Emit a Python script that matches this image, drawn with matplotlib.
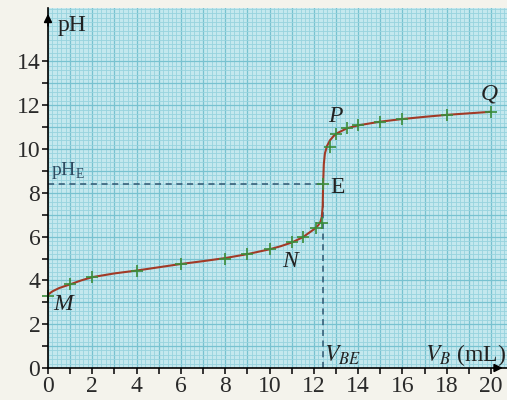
import matplotlib
matplotlib.use("Agg")
import matplotlib.pyplot as plt
import numpy as np

# measured points (green crosses)
vb_points = [0, 1, 2, 4, 6, 8, 9, 10, 11, 11.5, 12.1, 12.35, 12.4, 12.73, 13.0, 13.5, 14, 15, 16, 18, 20]
ph_points = [3.3, 3.82, 4.15, 4.45, 4.75, 5.0, 5.2, 5.42, 5.75, 5.97, 6.4, 6.62, 8.4, 10.1, 10.7, 10.95, 11.1, 11.25, 11.35, 11.55, 11.7]

# hand-drawn curve
curve_vb = [0, 0.2, 0.5, 1, 1.5, 2, 3, 4, 5, 6, 7, 8, 9, 10, 10.5, 11, 11.5, 12, 12.2, 12.3,
            12.36, 12.4, 12.42, 12.45, 12.5, 12.6, 12.73, 12.9, 13.05, 13.5, 14, 15, 16, 17, 18, 19, 20]
curve_ph = [3.35, 3.5, 3.65, 3.82, 4.0, 4.15, 4.32, 4.45, 4.6, 4.75, 4.88, 5.02, 5.2, 5.42, 5.56, 5.73, 5.97, 6.33, 6.52, 6.68,
            6.9, 7.4, 8.4, 9.3, 9.8, 10.15, 10.4, 10.6, 10.72, 10.95, 11.08, 11.25, 11.37, 11.47, 11.56, 11.63, 11.7]

v_be = 12.4
ph_e = 8.4

x_ticks = list(range(0, 21))
x_labels = [str(v) if v % 2 == 0 else "" for v in x_ticks]
y_ticks = list(range(0, 15))
y_labels = [str(v) if v % 2 == 0 else "" for v in y_ticks]

serif = ["Liberation Serif", "DejaVu Serif"]
fs = 17

fig = plt.figure(figsize=(5.07, 4.0), dpi=100)
fig.patch.set_facecolor("#f4f3ec")
ax = fig.add_axes([48 / 507, 32 / 400, 459 / 507, 360 / 400])
ax.set_facecolor("#c4e8ee")
ax.set_xlim(0, 20.72)
ax.set_ylim(0, 16.44)

ax.set_xticks(x_ticks)
ax.set_xticklabels(x_labels, fontfamily=serif, fontsize=fs, color="#2a2a2a")
ax.set_yticks(y_ticks)
ax.set_yticklabels(y_labels, fontfamily=serif, fontsize=fs, color="#2a2a2a")
ax.set_xticks(np.arange(0, 20.8, 0.2), minor=True)
ax.set_yticks(np.arange(0, 16.5, 0.2), minor=True)
ax.tick_params(which="major", direction="out", length=4, width=1.1, color="black", pad=1.5)
ax.tick_params(which="minor", length=0)
ax.grid(which="minor", color="#97d3de", lw=0.6)
ax.grid(which="major", color="#78c2d0", lw=0.9)
ax.set_axisbelow(True)
for s in ["top", "right"]:
    ax.spines[s].set_visible(False)
for s in ["left", "bottom"]:
    ax.spines[s].set_color("black")
    ax.spines[s].set_linewidth(1.2)

# axis arrows
ax.annotate("", xy=(0, 16.3), xytext=(0, 15.5),
            arrowprops=dict(arrowstyle="-|>", color="black", lw=1.2, mutation_scale=12),
            annotation_clip=False)
ax.annotate("", xy=(20.65, 0), xytext=(20.0, 0),
            arrowprops=dict(arrowstyle="-|>", color="black", lw=1.2, mutation_scale=12),
            annotation_clip=False)

# dashed guide lines
ax.plot([0, v_be], [ph_e, ph_e], ls=(0, (4, 3)), color="#2d5570", lw=1.1)
ax.plot([v_be, v_be], [0, ph_e], ls=(0, (4, 3)), color="#2d5570", lw=1.1)

# curve and points
ax.plot(curve_vb, curve_ph, color="#a23a26", lw=1.5, solid_capstyle="round")
ax.plot(vb_points, ph_points, ls="none", marker="+", ms=9, mew=1.2, color="#3b8d3b", clip_on=False)

# labels
ax.text(0.45, 15.65, "pH", fontfamily=serif, fontsize=fs, va="center", ha="left", color="#222")
ax.text(0.15, 8.55, r"pH$_\mathregular{E}$", fontfamily=serif, fontsize=14, va="bottom", ha="left", color="#2d4a60")
ax.text(12.75, 8.25, "E", fontfamily=serif, fontsize=fs, va="center", ha="left", color="#222")
ax.text(12.65, 11.5, "P", fontfamily=serif, fontsize=fs, style="italic", va="center", ha="left", color="#222")
ax.text(19.55, 12.5, "Q", fontfamily=serif, fontsize=fs, style="italic", va="center", ha="left", color="#222")
ax.text(0.25, 2.9, "M", fontfamily=serif, fontsize=fs, style="italic", va="center", ha="left", color="#222")
ax.text(10.55, 4.85, "N", fontfamily=serif, fontsize=fs, style="italic", va="center", ha="left", color="#222")
ax.text(12.45, 0.6, r"$V_{BE}$", fontfamily=serif, fontsize=fs, va="center", ha="left", color="#222",
        math_fontfamily="stix")
ax.text(17.0, 0.6, r"$V_B$ (mL)", fontfamily=serif, fontsize=fs, va="center", ha="left", color="#222",
        math_fontfamily="stix")

fig.savefig("out.png", dpi=100, facecolor=fig.get_facecolor())
